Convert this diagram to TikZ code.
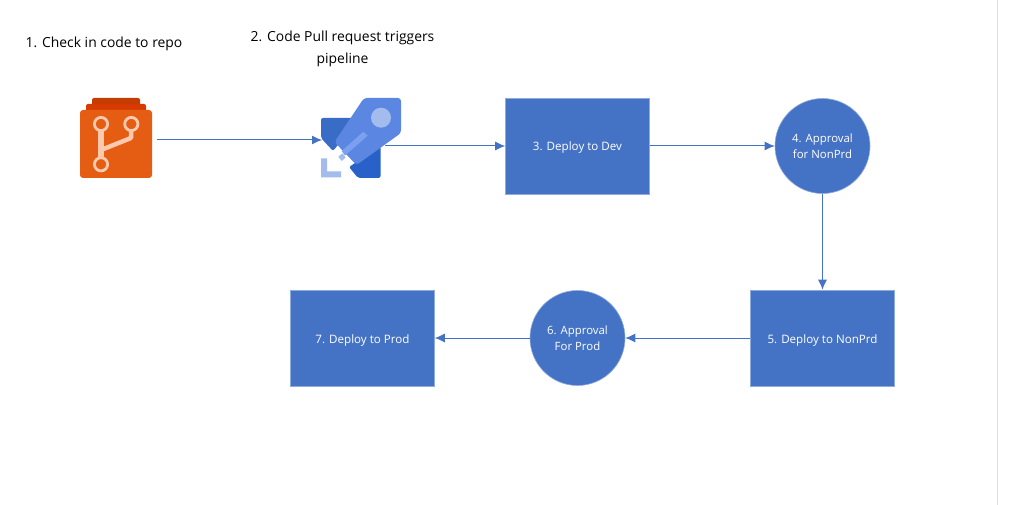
\documentclass[tikz,border=0pt]{standalone}
\usepackage{fontspec}
\setmainfont{Open Sans}
\usetikzlibrary{arrows.meta}
\definecolor{boxblue}{HTML}{4472C4}
\definecolor{linkblue}{HTML}{4472C4}
\definecolor{gitpale}{HTML}{FFC9AE}
\tikzset{
  x=1pt,y=-1pt,
  stepbox/.style={draw=boxblue!60!white,line width=0.6pt,fill=boxblue,text=white,minimum width=144pt,minimum height=96pt,inner sep=0pt,font=\fontsize{11.6}{14}\selectfont,align=center,text depth=0pt,text height=10pt},
  gate/.style={circle,draw=boxblue!60!white,line width=0.6pt,fill=boxblue,text=white,minimum size=95pt,inner sep=0pt,font=\fontsize{11.4}{16}\selectfont,align=center},
  heading/.style={text=black,font=\fontsize{13.9}{21.5}\selectfont,align=center,inner sep=0pt},
  link/.style={draw=linkblue,line width=1pt,-{Latex[length=10pt,width=9pt]}},
  git/.style={draw=gitpale,line width=2.8pt},
}
\begin{document}
\begin{tikzpicture}
\useasboundingbox (0,0) rectangle (1012,505);
\fill[white] (0,0) rectangle (1012,505);
\draw[draw=black!12,line width=0.8pt] (997.5,0) -- (997.5,505);
% headings
\node[heading] (h1) at (104,44) {1. Check in code to repo};
\node[heading] (h2) at (342.5,49) {2. Code Pull request triggers\\pipeline};
% repo icon
\fill[rounded corners=2pt,fill={rgb,255:red,196;green,60;blue,0}] (92,112) -- (92,98) -- (140,98) -- (140,112) -- cycle;
\fill[rounded corners=2pt,fill={rgb,255:red,216;green,59;blue,1}] (86,115) -- (86,104) -- (146,104) -- (146,115) -- cycle;
\fill[rounded corners=3pt,fill={rgb,255:red,229;green,92;blue,19}] (80,110) rectangle (152,178);
\draw[git,line width=5.5pt] (101,131) -- (101,158);
\draw[git,line width=4.5pt,line join=round] (101,150) -- (131,138) -- (131,130);
\draw[git] (101,124) circle (6.6);
\draw[git] (131.3,124) circle (6.6);
\draw[git] (101,164.3) circle (6.6);
% rocket icon
\fill[rounded corners=2pt,fill={rgb,255:red,56;green,108;blue,198}] (321,118) -- (360,118) -- (333,151) -- (321,138) -- cycle;
\fill[rounded corners=2pt,fill={rgb,255:red,40;green,97;blue,200}] (380.5,146) -- (380.5,178) -- (358,178) -- (349,167) -- cycle;
\fill[fill={rgb,255:red,164;green,187;blue,238}] (321,158.5) -- (327,158.5) -- (327,171.5) -- (341,171.5) -- (341,177.5) -- (321,177.5) -- cycle;
\fill[rounded corners=3pt,fill={rgb,255:red,91;green,135;blue,226}] (364,98) -- (401,98) -- (401,133) -- (356.5,165) -- (334.5,142) -- cycle;
\fill[fill={rgb,255:red,164;green,187;blue,238}] (381,117.7) circle (10);
\fill[fill={rgb,255:red,122;green,160;blue,238}] (363.3,131.7) -- (367.7,135.7) -- (345,155.5) -- (341.7,151) -- cycle;
\fill[fill={rgb,255:red,164;green,187;blue,238}] (338.3,156.7) -- (342.3,153.3) -- (345.7,157.3) -- (341.7,161) -- cycle;
% steps
\node[stepbox] (dev) at (577.5,146) {3. Deploy to Dev};
\node[gate] (appr4) at (822.5,146) {4. Approval\\for NonPrd};
\node[stepbox] (nonprd) at (822.5,338) {5. Deploy to NonPrd};
\node[gate] (appr6) at (577.5,338) {6. Approval\\For Prod};
\node[stepbox] (prod) at (362.5,338) {7. Deploy to Prod};
% connector ends at the icons
\coordinate (repoOut) at (157,140);
\coordinate (rocketIn) at (322,140);
\coordinate (rocketOut) at (385,146);
\draw[link] (repoOut) -- (rocketIn);
\draw[link] (rocketOut) -- (dev);
\draw[link] (dev) -- (appr4);
\draw[link] (appr4) -- (nonprd);
\draw[link] (nonprd) -- (appr6);
\draw[link] (appr6) -- (prod);
\end{tikzpicture}
\end{document}
